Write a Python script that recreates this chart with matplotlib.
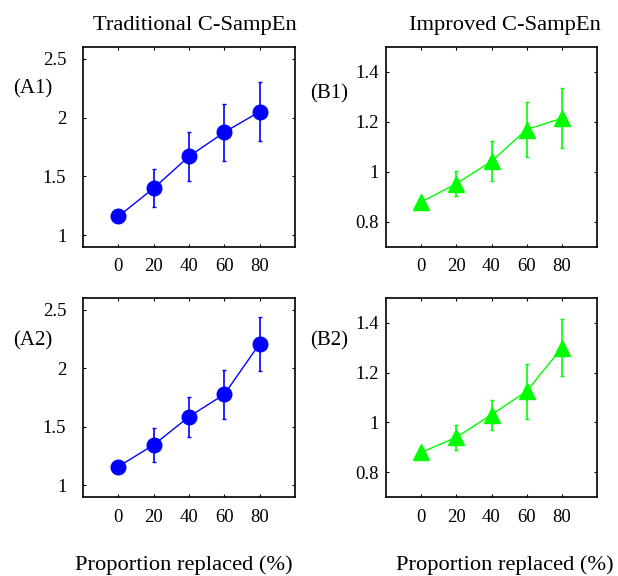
import numpy as np
import matplotlib
matplotlib.use("Agg")
import matplotlib.pyplot as plt

plt.rcParams['font.family'] = ['Liberation Serif', 'DejaVu Serif']

props = [0, 20, 40, 60, 80]

a1_mean = [1.16, 1.40, 1.67, 1.875, 2.05]
a1_err = [0.02, 0.16, 0.21, 0.24, 0.25]
a2_mean = [1.16, 1.345, 1.586, 1.777, 2.21]
a2_err = [0.02, 0.143, 0.17, 0.21, 0.23]
b1_mean = [0.88, 0.953, 1.043, 1.17, 1.215]
b1_err = [0.01, 0.05, 0.08, 0.11, 0.12]
b2_mean = [0.879, 0.94, 1.031, 1.125, 1.30]
b2_err = [0.01, 0.05, 0.06, 0.11, 0.115]

a_ticks = [1, 1.5, 2, 2.5]
a_ticklabels = ['1', '1.5', '2', '2.5']
b_ticks = [0.8, 1.0, 1.2, 1.4]
b_ticklabels = ['0.8', '1', '1.2', '1.4']

fig = plt.figure(figsize=(6.18, 5.76), dpi=100)
W, H = 618, 576

def make_ax(x0, x1, y0, y1):
    return fig.add_axes([x0 / W, 1 - y1 / H, (x1 - x0) / W, (y1 - y0) / H])

# ax, mean, err, colour, marker, ylim, yticks, yticklabels, ypad, xpad
panels = [
    (make_ax(83, 295, 47, 247), a1_mean, a1_err, 'b', 'o', (0.9, 2.6), a_ticks, a_ticklabels, 12, 8),
    (make_ax(386, 597, 47, 247), b1_mean, b1_err, '#00ff00', '^', (0.7, 1.5), b_ticks, b_ticklabels, 5, 8),
    (make_ax(83, 295, 298, 497), a2_mean, a2_err, 'b', 'o', (0.9, 2.6), a_ticks, a_ticklabels, 12, 9),
    (make_ax(386, 597, 298, 497), b2_mean, b2_err, '#00ff00', '^', (0.7, 1.5), b_ticks, b_ticklabels, 5, 9),
]

for ax, m, e, c, mk, yl, yt, ytl, ypad, xpad in panels:
    ax.errorbar(props, m, yerr=e, color=c, marker=mk,
                markersize=10.5 if mk == 'o' else 11,
                linewidth=1, elinewidth=1.2, capsize=1.5, capthick=1)
    ax.set_xlim(-20, 100)
    ax.set_ylim(*yl)
    ax.set_xticks(props)
    ax.set_yticks(yt)
    ax.set_yticklabels(ytl)
    ax.tick_params(direction='in', length=2.5, labelsize=13.5,
                   right=True, top=True, width=0.8)
    ax.tick_params(axis='y', pad=ypad)
    ax.tick_params(axis='x', pad=xpad)
    for s in ax.spines.values():
        s.set_linewidth(1.2)

fig.text(33 / W, 1 - 89 / H, '(A1)', ha='center', va='center', fontsize=15)
fig.text(329 / W, 1 - 94 / H, '(B1)', ha='center', va='center', fontsize=15)
fig.text(33 / W, 1 - 341 / H, '(A2)', ha='center', va='center', fontsize=15)
fig.text(329 / W, 1 - 341 / H, '(B2)', ha='center', va='center', fontsize=15)

fig.text(195 / W, 1 - 30 / H, 'Traditional C-SampEn', ha='center', va='baseline', fontsize=16.2)
fig.text(505 / W, 1 - 30 / H, 'Improved C-SampEn', ha='center', va='baseline', fontsize=16.2)
fig.text(184 / W, 1 - 570 / H, 'Proportion replaced (%)', ha='center', va='baseline', fontsize=16.2)
fig.text(505 / W, 1 - 570 / H, 'Proportion replaced (%)', ha='center', va='baseline', fontsize=16.2)

fig.savefig('out.png', dpi=100)
